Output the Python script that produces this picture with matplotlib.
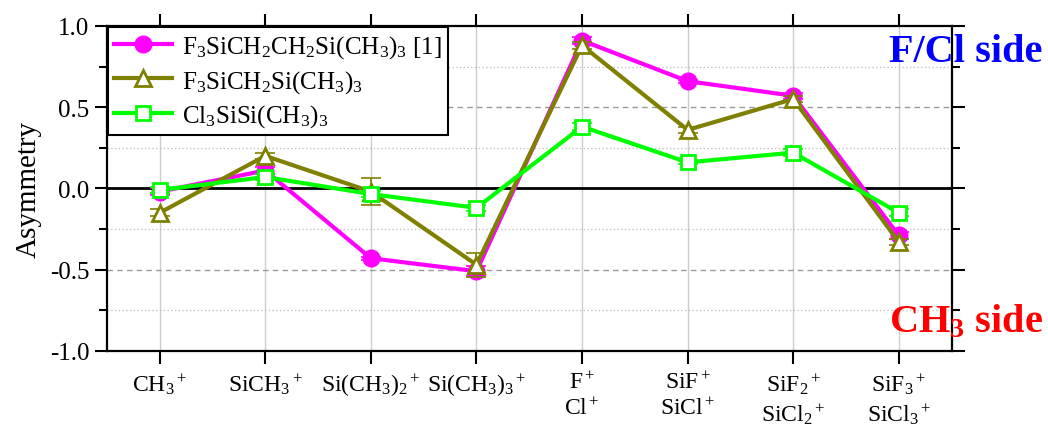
import numpy as np
import matplotlib
matplotlib.use('Agg')
import matplotlib.pyplot as plt
from matplotlib.ticker import MultipleLocator, FormatStrFormatter

plt.rcParams['font.family'] = ['Liberation Serif', 'DejaVu Serif']
plt.rcParams['mathtext.fontset'] = 'custom'
plt.rcParams['mathtext.rm'] = 'Liberation Serif'
plt.rcParams['mathtext.it'] = 'Liberation Serif:italic'
plt.rcParams['mathtext.bf'] = 'Liberation Serif:bold'
plt.rcParams['mathtext.default'] = 'regular'

# ion fragments
ions = [r'CH$_3$$^+$', r'SiCH$_3$$^+$', r'Si(CH$_3$)$_2$$^+$', r'Si(CH$_3$)$_3$$^+$',
        'F$^+$\nCl$^+$', 'SiF$^+$\nSiCl$^+$', 'SiF$_2$$^+$\nSiCl$_2$$^+$',
        'SiF$_3$$^+$\nSiCl$_3$$^+$']

# asymmetry values
f3_ch2ch2 = [-0.02, 0.11, -0.43, -0.51, 0.91, 0.66, 0.57, -0.29]
f3_ch2 = [-0.15, 0.20, -0.02, -0.47, 0.88, 0.36, 0.55, -0.33]
cl3_si = [-0.01, 0.07, -0.035, -0.12, 0.38, 0.16, 0.22, -0.15]

err_f3_ch2ch2 = [0.02, 0.02, 0.01, 0.03, 0.02, 0.01, 0.02, 0.02]
err_f3_ch2 = [0.02, 0.02, 0.085, 0.075, 0.02, 0.02, 0.02, 0.02]
err_cl3_si = [0.02, 0.02, 0.02, 0.02, 0.02, 0.01, 0.02, 0.02]

labels = [r'F$_3$SiCH$_2$CH$_2$Si(CH$_3$)$_3$ [1]',
          r'F$_3$SiCH$_2$Si(CH$_3$)$_3$',
          r'Cl$_3$SiSi(CH$_3$)$_3$']

x = np.arange(len(ions))

fig = plt.figure(figsize=(10.48, 4.27), dpi=100)
ax = fig.add_axes([0.102, 0.176, 0.806, 0.761])

# grid
for xi in x:
    ax.axvline(xi, color='#cccccc', lw=1, zorder=0)
for yv in [-0.5, 0.5]:
    ax.axhline(yv, color='#999999', lw=1, ls=(0, (4, 3)), zorder=0)
for yv in [-0.75, -0.25, 0.25, 0.75]:
    ax.axhline(yv, color='#bbbbbb', lw=0.9, ls=(0, (1, 2)), zorder=0)
ax.axhline(0, color='black', lw=2, zorder=1)

series = [
    (f3_ch2ch2, err_f3_ch2ch2, '#ff00ff', 'o', '#ff00ff', 11),
    (f3_ch2, err_f3_ch2, '#808000', '^', 'white', 12),
    (cl3_si, err_cl3_si, '#00ff00', 's', 'white', 10),
]
for i, (y, e, c, m, fc, ms) in enumerate(series):
    ax.errorbar(x, y, yerr=e, fmt='none', ecolor=c, capsize=7,
                elinewidth=1.2, capthick=1.2, zorder=3 + i)
    ax.plot(x, y, color=c, lw=3, marker=m, ms=ms, mfc=fc, mec=c, mew=2,
            label=labels[i], zorder=3 + i)

ax.set_xlim(-0.5, 7.5)
ax.set_ylim(-1.0, 1.0)
ax.set_xticks(x)
ax.set_xticklabels(ions, fontsize=17, linespacing=1.25)
ax.yaxis.set_major_locator(MultipleLocator(0.5))
ax.yaxis.set_minor_locator(MultipleLocator(0.25))
ax.yaxis.set_major_formatter(FormatStrFormatter('%.1f'))
ax.tick_params(axis='y', labelsize=18, direction='out', length=9, width=1.5,
               right=True)
ax.tick_params(axis='y', which='minor', direction='out', length=6, width=1.5,
               right=True)
ax.tick_params(axis='x', direction='out', length=9, width=1.5, top=True, pad=6)
for s in ax.spines.values():
    s.set_linewidth(1.6)
ax.set_ylabel('Asymmetry', fontsize=21, labelpad=6)

leg = ax.legend(loc='upper left', bbox_to_anchor=(0, 1), borderaxespad=0.05,
                fontsize=18, fancybox=False, edgecolor='black', framealpha=1,
                handlelength=2.3, borderpad=0.25, labelspacing=0.3,
                handletextpad=0.4)
leg.get_frame().set_linewidth(1.5)

fig.text(0.995, 0.878, 'F/Cl side', color='#0000ff', fontsize=29,
         fontweight='bold', ha='right', va='center')
fig.text(0.995, 0.245, 'CH$_3$ side', color='#ff0000', fontsize=29,
         fontweight='bold', ha='right', va='center')

fig.savefig('out.png', dpi=100)
